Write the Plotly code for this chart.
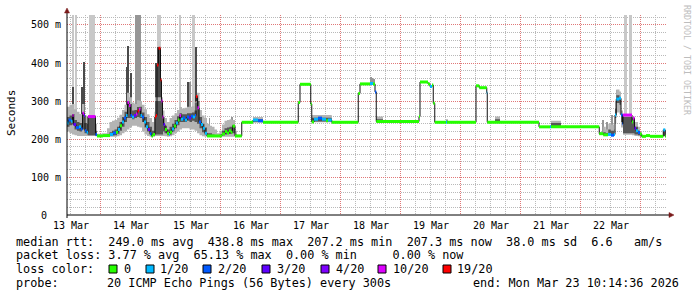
import plotly.graph_objects as go

# ---------------- data (time in hours after the "13 Mar" label) ----------------
day_labels = ["13 Mar", "14 Mar", "15 Mar", "16 Mar", "17 Mar",
              "18 Mar", "19 Mar", "20 Mar", "21 Mar", "22 Mar"]
day_label_h = [1.6, 25.6, 49.6, 73.6, 97.6, 121.6, 145.6, 169.6, 193.6, 217.6]
major_grid_h = [13.2, 37.2, 61.2, 85.2, 109.2, 133.2, 157.2, 181.2, 205.2, 229.2]
y_tick_ms = [0, 100, 200, 300, 400, 500]
y_tick_text = ["", "100 m", "200 m", "300 m", "400 m", "500 m"]
y_zero_text = "0"

# median rtt step segments: start hour, median ms, lost pings (of 20)
seg_h = [0.0, 0.6, 1.6, 2.2, 2.6, 3.6, 4.8, 5.6, 6.2, 6.8, 7.2, 7.8, 8.4, 11.4, 12.0,
         14.4, 17.2, 18.4, 19.6, 20.4, 21.2, 22.0, 22.8, 23.6, 24.2, 24.8, 25.4, 26.0,
         26.8, 27.6, 28.2, 28.8, 29.4, 30.0, 30.8, 31.6, 32.4, 33.2, 33.8, 34.4, 35.2,
         35.6, 36.0, 36.6, 37.4, 37.8, 38.2, 38.6, 39.2, 40.0, 40.8, 41.2, 42.0, 42.8,
         43.6, 44.4, 45.0, 45.6, 46.4, 47.2, 48.0, 48.8, 49.6, 50.4, 51.2, 51.6, 52.2,
         52.8, 53.6, 54.4, 55.2, 56.0, 62.0, 63.2, 64.0, 64.8, 65.6, 66.2, 67.2, 69.9,
         74.4, 76.4, 78.4, 92.5, 93.2, 97.5, 97.9, 98.8, 100.4, 102.0, 103.6, 104.4,
         105.9, 116.5, 117.2, 121.2, 122.4, 123.2, 123.7, 140.8, 141.2, 144.4, 145.2,
         146.0, 146.5, 147.1, 151.6, 152.0, 163.6, 164.9, 167.9, 168.1, 188.8, 193.2,
         193.6, 212.9, 214.5, 216.4, 217.6, 218.8, 219.2, 219.7, 220.8, 221.6, 222.2,
         222.4, 226.0, 226.4, 227.0, 227.6, 228.4, 229.2, 229.9, 231.6, 233.2, 238.5,
         239.3]
seg_ms = [242, 250, 247, 262, 238, 230, 232, 226, 268, 262, 222, 218, 259, 212, 208,
          209, 212, 216, 218, 225, 235, 245, 255, 262, 296, 288, 262, 258,
          262, 266, 274, 278, 262, 258, 245, 232, 225, 214, 208, 212, 258,
          262, 395, 438.8, 355, 300, 258, 238, 225, 215, 212, 218, 226, 234,
          242, 250, 262, 252, 255, 250, 258, 255, 260, 258, 262, 312, 282,
          245, 238, 228, 215, 208, 213, 220, 216, 222, 218, 234, 208, 244,
          250, 248, 244, 296, 344, 292, 245, 252, 255, 252, 248, 250,
          244, 320, 345, 346, 345, 324, 246, 259, 350, 345, 338,
          342, 294, 244, 244, 244, 340, 335, 322, 244, 232, 232,
          232, 214, 211, 212, 210, 212, 263, 305, 307, 263, 240,
          263, 245, 255, 228, 222, 217, 213, 207, 209, 207, 224,
          207]
seg_loss = [1, 2, 1, 10, 3, 2, 1, 2, 10, 3, 2, 1, 10, 2, 0,
            0, 1, 2, 0, 1, 0, 1, 2, 1, 10, 10, 2, 1,
            3, 10, 19, 10, 1, 2, 1, 1, 3, 2, 0, 0, 19,
            19, 19, 19, 19, 10, 10, 3, 0, 0, 1, 0, 1, 0,
            1, 0, 10, 1, 2, 1, 2, 3, 2, 1, 2, 19, 10,
            2, 1, 1, 1, 0, 0, 0, 0, 0, 0, 0, 0, 0,
            1, 2, 0, 0, 0, 0, 0, 1, 2, 1, 0, 1,
            0, 0, 0, 1, 0, 2, 0, 0, 0, 0, 1,
            0, 0, 0, 1, 0, 0, 0, 1, 0, 0, 1,
            0, 0, 0, 1, 2, 1, 1, 1, 1, 2, 2,
            10, 0, 10, 3, 1, 2, 0, 0, 0, 0, 1,
            0]
end_h = 239.6

# smoke (spread of the 20 pings), ms
smoke_h = [0.0, 1.0, 2.0, 3.0, 4.0, 5.0, 6.0, 7.0, 8.0, 8.4, 11.4, 12.0, 14.0, 16.0,
           17.0, 18.0, 19.0, 20.0, 21.0, 22.0, 23.0, 24.0, 25.0, 26.0, 27.0, 28.0,
           29.0, 30.0, 31.0, 32.0, 33.0, 34.0, 35.0, 35.2, 38.4, 39.0, 40.0, 41.0,
           42.0, 43.0, 44.0, 45.0, 46.0, 47.0, 48.0, 49.0, 50.0, 51.0, 52.0, 53.0,
           54.0, 55.0, 56.0, 57.0, 58.0, 59.0, 60.0, 61.0, 62.0, 63.0, 64.0, 65.0,
           66.0, 67.2, 68.0, 69.9, 74.4, 78.4, 97.9, 105.9, 123.7, 126.4, 151.6,
           152.4, 171.2, 173.2, 193.6, 197.6, 212.9, 214.5, 215.5, 216.5, 217.5,
           218.8, 219.2, 219.7, 221.0, 221.6, 222.4, 226.0, 227.0, 228.4, 229.2,
           229.9, 238.5, 239.3, 239.6]
smoke_min = [220, 215, 212, 210, 208, 208, 208, 208, 208, 208, 207, 206, 206, 206,
             206, 206, 206, 207, 210, 215, 220, 225, 230, 235, 235, 232,
             230, 220, 212, 208, 206, 206, 206, 208, 208, 207, 206, 207,
             210, 215, 220, 225, 228, 228, 228, 225, 225, 222, 215, 210,
             207, 206, 206, 206, 206, 206, 206, 206, 206, 206, 206, 206,
             206, 206, 206, 244, 243, 244, 244, 244, 244, 244, 244,
             244, 244, 244, 232, 232, 211, 210, 210, 210, 209,
             209, 240, 270, 265, 230, 211, 210, 208, 207, 206,
             207, 207, 207, 207]
smoke_lo = [232, 236, 238, 225, 222, 220, 225, 215, 212, 210, 208, 207, 207, 207,
            208, 209, 210, 214, 222, 232, 245, 255, 255, 252, 255, 258,
            255, 245, 230, 220, 212, 208, 212, 212, 220, 215, 210, 212,
            220, 228, 236, 245, 245, 245, 248, 245, 248, 245, 240, 228,
            218, 212, 207, 207, 207, 207, 207, 207, 210, 212, 213, 213,
            215, 207, 207, 244, 245, 244, 246, 244, 246, 244, 244,
            244, 246, 244, 234, 232, 212, 211, 211, 212, 211,
            210, 255, 295, 290, 245, 215, 215, 212, 210, 207,
            207, 208, 207, 207]
smoke_hi = [258, 262, 266, 250, 245, 242, 270, 242, 240, 259, 222, 210, 210, 213,
            218, 222, 225, 232, 245, 258, 272, 300, 292, 275, 276, 284,
            285, 270, 258, 245, 232, 222, 258, 300, 258, 235, 225, 232,
            240, 250, 260, 268, 265, 265, 268, 268, 270, 275, 300, 258,
            240, 230, 215, 215, 212, 210, 210, 212, 222, 228, 230, 232,
            236, 212, 209, 244, 252, 244, 256, 244, 252, 244, 248,
            244, 252, 244, 242, 232, 215, 218, 216, 225, 222,
            215, 280, 315, 310, 265, 258, 245, 232, 222, 214,
            207, 224, 207, 207]
smoke_max = [285, 290, 292, 278, 272, 266, 292, 262, 258, 262, 240, 214, 215, 228,
             245, 248, 250, 256, 264, 276, 290, 322, 310, 296, 292, 302,
             300, 290, 278, 265, 255, 245, 272, 310, 275, 255, 245, 255,
             262, 268, 276, 284, 280, 282, 285, 285, 286, 295, 322, 276,
             262, 255, 240, 235, 232, 225, 215, 222, 238, 248, 250, 252,
             250, 222, 211, 244, 258, 244, 263, 244, 259, 244, 252,
             244, 259, 244, 248, 232, 218, 232, 225, 240, 238,
             225, 300, 330, 325, 275, 263, 258, 245, 232, 218,
             207, 224, 207, 207]

# single outlier pings drawn as thin columns (hour, duration, from ms, to ms)
light_h = [2.4, 3.6, 9.8, 36.6, 45.2, 50.5, 223.3, 225.4]
light_w = [0.8, 0.7, 2.4, 1.6, 0.4, 1.2, 1.0, 0.9]
light_from = [260, 250, 259, 420, 270, 270, 263, 263]
light_to = [526, 526, 526, 526, 526, 526, 526, 526]

mid_h = [27.6, 28.4, 29.2, 49.3, 57.0, 65.9, 121.6, 122.2, 122.8, 214.5, 216.2,
         217.9, 220.0, 220.6]
mid_w = [0.4, 0.4, 0.4, 0.4, 0.4, 0.5, 0.4, 0.4, 0.4, 0.5, 0.5, 0.6, 0.4, 0.4]
mid_from = [280, 280, 280, 265, 208, 215, 345, 345, 345, 213, 213, 213, 305, 305]
mid_to = [526, 526, 526, 351, 255, 259, 364, 360, 358, 250, 245, 263, 330, 325]

dark_h = [2.4, 6.2, 6.8, 24.0, 24.6, 25.6, 35.6, 36.4, 37.4, 37.8, 48.6, 51.6]
dark_w = [0.4, 0.5, 0.4, 0.4, 0.6, 0.5, 0.4, 1.2, 0.4, 0.4, 0.5, 0.5]
dark_from = [260, 265, 265, 290, 290, 270, 210, 210, 210, 210, 265, 300]
dark_to = [337, 337, 403, 390, 445, 373, 400, 442, 380, 330, 351, 441]

loss_classes = [0, 1, 2, 3, 4, 10, 19]
loss_labels = ["0", "1/20", "2/20", "3/20", "4/20", "10/20", "19/20"]

stats_rtt = "median rtt:  249.0 ms avg  438.8 ms max  207.2 ms min  207.3 ms now  38.0 ms sd  6.6   am/s"
stats_loss = "packet loss: 3.77 % avg  65.13 % max  0.00 % min     0.00 % now"
probe_text = "20 ICMP Echo Pings (56 Bytes) every 300s"
end_text = "end: Mon Mar 23 10:14:36 2026"

# ---------------- styling ----------------
W, H = 697, 297
L, R, T, B = 67, 30, 15, 82
PW, PH = W - L - R, H - T - B
Y_MAX = 526.3
X_MAX = 240

LOSS_COLORS = {0: "#26ff00", 1: "#00b8ff", 2: "#0059ff", 3: "#5e00ff",
               4: "#7e00ff", 10: "#dd00ff", 19: "#ff0000"}
MONO = "DejaVu Sans Mono"
NB = "\u00a0"


def pxx(x):
    return (x - L) / PW


def pxy(y):
    return (T + PH - y) / PH


fig = go.Figure()


def spikes(h, w, lo, hi, color):
    fig.add_trace(go.Bar(x=h, y=[b - a for a, b in zip(lo, hi)], base=lo, width=w,
                         marker=dict(color=color, line=dict(width=0)),
                         hoverinfo="skip", showlegend=False))


spikes(light_h, light_w, light_from, light_to, "#c8c8c8")
spikes(mid_h, mid_w, mid_from, mid_to, "#969696")
spikes(dark_h, dark_w, dark_from, dark_to, "#4a4a4a")

# smoke bands
for lo, hi, col in [(smoke_min, smoke_max, "#b4b4b4"), (smoke_lo, smoke_hi, "#565656")]:
    fig.add_trace(go.Scatter(x=smoke_h, y=lo, mode="lines", line=dict(width=0, shape="hv"),
                             hoverinfo="skip", showlegend=False))
    fig.add_trace(go.Scatter(x=smoke_h, y=hi, mode="lines", line=dict(width=0, shape="hv"),
                             fill="tonexty", fillcolor=col, hoverinfo="skip", showlegend=False))

# median line (thin dark) on the overlay axis so it sits above the smoke
fig.add_trace(go.Scatter(x=seg_h + [end_h], y=seg_ms + [seg_ms[-1]], mode="lines",
                         line=dict(color="#111111", width=1, shape="hv"),
                         xaxis="x2", hoverinfo="skip", showlegend=False))

seg_end = seg_h[1:] + [end_h]
for cls in loss_classes:
    xs, ys = [], []
    for a, b, v, l in zip(seg_h, seg_end, seg_ms, seg_loss):
        if l == cls:
            xs += [a, b, None]
            ys += [v, v, None]
    if xs:
        fig.add_trace(go.Scatter(x=xs, y=ys, mode="lines",
                                 line=dict(color=LOSS_COLORS[cls], width=3),
                                 xaxis="x2", hoverinfo="skip", showlegend=False))

GRID_MAJOR = "#e07878"
GRID_MINOR = "#b9b9b9"
DASH = "1px,1px"

fig.update_layout(
    width=W, height=H,
    margin=dict(l=L, r=R, t=T, b=B, pad=0),
    paper_bgcolor="#ffffff", plot_bgcolor="#ffffff",
    barmode="overlay", bargap=0,
    showlegend=False,
    font=dict(family=MONO, color="#000000"),
    xaxis=dict(range=[0, X_MAX], tickmode="array", tickvals=day_label_h, ticktext=day_labels,
               showgrid=False, zeroline=False, showline=False, ticks="",
               tickfont=dict(family=MONO, size=10, color="#000"), ticklabelstandoff=3),
    xaxis2=dict(range=[0, X_MAX], overlaying="x", tickmode="array", tickvals=major_grid_h,
                showticklabels=False, showgrid=True, gridcolor=GRID_MAJOR, griddash=DASH,
                gridwidth=1, zeroline=False, showline=False, ticks="",
                minor=dict(tick0=1.2, dtick=6, showgrid=True, gridcolor=GRID_MINOR,
                           griddash=DASH, gridwidth=1)),
    yaxis=dict(range=[0, Y_MAX], tickmode="array", tickvals=y_tick_ms, ticktext=y_tick_text,
               showgrid=True, gridcolor=GRID_MAJOR, griddash=DASH, gridwidth=1,
               zeroline=False, showline=False, ticks="",
               tickfont=dict(family=MONO, size=10, color="#000"), ticklabelstandoff=5,
               minor=dict(tick0=0, dtick=20, showgrid=True, gridcolor=GRID_MINOR,
                          griddash=DASH, gridwidth=1)),
)

shapes = []
AX = "#000000"
ARROW = "#7a1a1a"
# axis lines
shapes.append(dict(type="line", xref="paper", yref="paper", x0=pxx(67), x1=pxx(670),
                   y0=pxy(215), y1=pxy(215), line=dict(color=AX, width=1)))
shapes.append(dict(type="line", xref="paper", yref="paper", x0=pxx(67), x1=pxx(67),
                   y0=pxy(218), y1=pxy(11), line=dict(color=AX, width=1)))
# arrows
shapes.append(dict(type="path", xref="paper", yref="paper",
                   path=f"M {pxx(64.5)} {pxy(13)} L {pxx(69.5)} {pxy(13)} L {pxx(67)} {pxy(8)} Z",
                   fillcolor=ARROW, line=dict(color=ARROW, width=0.5)))
shapes.append(dict(type="path", xref="paper", yref="paper",
                   path=f"M {pxx(669)} {pxy(212.5)} L {pxx(669)} {pxy(217.5)} L {pxx(674)} {pxy(215)} Z",
                   fillcolor=ARROW, line=dict(color=ARROW, width=0.5)))

annotations = []


def text(x, y, s, size=11.8, color="#000000", xanchor="left", angle=0):
    annotations.append(dict(x=pxx(x), y=pxy(y), xref="paper", yref="paper", text=s.replace(" ", NB),
                            showarrow=False, xanchor=xanchor, yanchor="middle", textangle=angle,
                            font=dict(family=MONO, size=size, color=color), borderpad=0))


# y-axis zero label sits left of the other tick labels (unit column is blank)
annotations.append(dict(x=0, y=y_tick_ms[0], xref="paper", yref="y", text=y_zero_text,
                        showarrow=False, xanchor="right", yanchor="middle", xshift=-19,
                        font=dict(family=MONO, size=10, color="#000"), borderpad=0))

text(15, 241.5, stats_rtt)
text(15, 255, stats_loss)
text(15, 269, "loss color:")
text(15, 282.5, "probe:")
text(106, 282.5, probe_text)
text(680, 282.5, end_text, xanchor="right")

sq_x = [109, 146, 203, 262, 321, 378, 443]
lab_x = [123, 159, 217, 276, 335, 392, 456]
for cls, lab, sx, lx in zip(loss_classes, loss_labels, sq_x, lab_x):
    shapes.append(dict(type="rect", xref="paper", yref="paper",
                       x0=pxx(sx), x1=pxx(sx + 8), y0=pxy(273), y1=pxy(265),
                       fillcolor=LOSS_COLORS[cls], line=dict(color="#000", width=1)))
    text(lx, 269, lab)

text(11, 113, "Seconds", size=11, xanchor="center", angle=-90)
text(687, 60, "RRDTOOL / TOBI OETIKER", size=8.3, color="#bdbdbd", xanchor="center", angle=90)

fig.update_layout(shapes=shapes, annotations=annotations)
fig.write_html("out.html")
